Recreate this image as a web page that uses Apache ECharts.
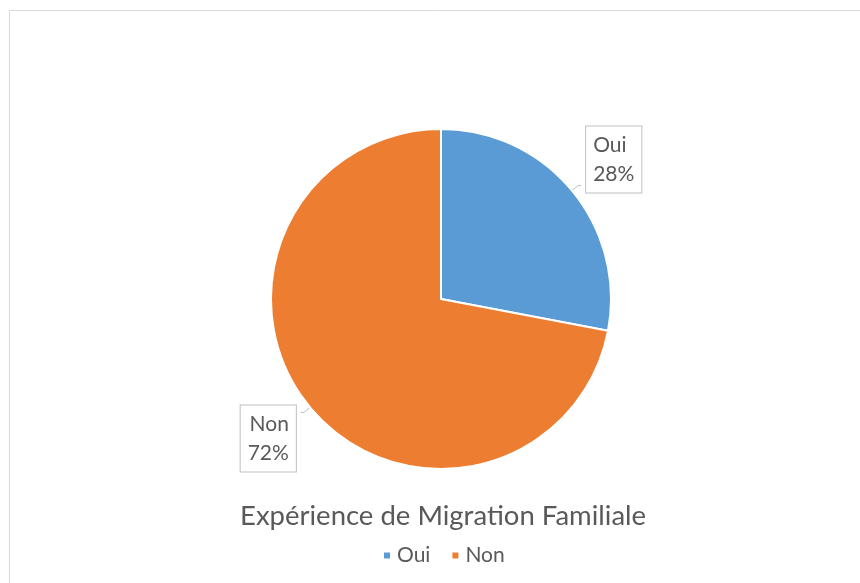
<!DOCTYPE html>
<html><head><meta charset="utf-8">
<script src="https://cdn.jsdelivr.net/npm/echarts@6/dist/echarts.min.js"></script>
<style>html,body{margin:0;padding:0;background:#fff}#c{width:860px;height:583px}</style>
</head><body><div id="c"></div>
<script>
const categories = ['Oui', 'Non'];
const values = [28, 72];
const colors = ['#5B9BD5', '#ED7D31'];
const titleText = 'Expérience de Migration Familiale';

const chart = echarts.init(document.getElementById('c'));
const FONT = 'Lato';
chart.setOption({
  animation: false,
  backgroundColor: '#fff',
  title: {
    text: titleText, left: 235, top: 497,
    textStyle: { fontFamily: FONT, fontSize: 27.5, fontWeight: 'normal', color: '#595959' }
  },
  legend: {
    data: categories, left: 377, top: 540, icon: 'rect', itemWidth: 8, itemHeight: 8, itemGap: 20,
    textStyle: { fontFamily: FONT, fontSize: 21, color: '#595959', padding: [0, 0, 0, 1] }
  },
  graphic: [{ type: 'rect', shape: { x: 9.5, y: 10.5, width: 870, height: 600 }, style: { fill: 'none', stroke: '#d9d9d9', lineWidth: 1 }, silent: true }],
  series: [{
    type: 'pie', center: [441, 299], radius: 170, startAngle: 90, clockwise: true,
    color: colors,
    itemStyle: { borderColor: '#fff', borderWidth: 2 },
    data: categories.map((n, i) => ({ name: n, value: values[i] })),
    label: {
      show: true, position: 'outside',
      formatter: p => p.name + '\n' + Math.round(p.percent) + '%',
      fontFamily: FONT, fontSize: 21, color: '#595959', lineHeight: 29,
      backgroundColor: '#fff', borderColor: '#bfbfbf', borderWidth: 1, padding: [4, 7]
    },
    labelLine: { show: true, length: 8, length2: 3, lineStyle: { color: '#bfbfbf', width: 1 } },
    labelLayout: function (p) { return { dy: p.dataIndex === 0 ? -26 : 26 }; }
  }]
});
</script></body></html>
